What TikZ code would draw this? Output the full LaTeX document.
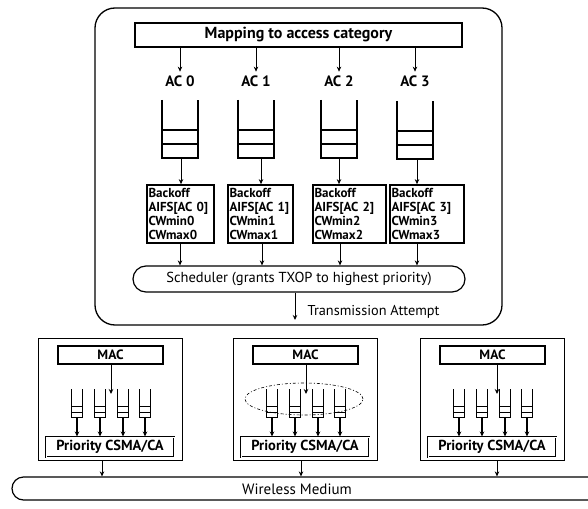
\documentclass[tikz,border=0pt]{standalone}
\usepackage{fontspec}
\setmainfont{PT Sans}
\usetikzlibrary{arrows.meta,shapes.misc,shapes.geometric}
\begin{document}
\begin{tikzpicture}[x=1pt,y=-1pt,line width=1.1pt,
  arr/.style={-{Stealth[length=5pt,width=4.5pt]},line width=0.9pt},
  qnode/.style={rectangle,inner sep=0pt,minimum width=35pt,minimum height=57pt},
  mq/.style={rectangle,inner sep=0pt,minimum width=10pt,minimum height=27pt},
  bobox/.style={draw,line width=1.7pt,rectangle,inner sep=1.5pt,minimum height=58pt,align=left,
    font=\bfseries\fontsize{13}{13.8}\selectfont},
  aclab/.style={font=\bfseries\fontsize{15}{17}\selectfont},
  station/.style={draw,line width=1.3pt,rectangle,minimum width=144pt,minimum height=122pt},
  macbox/.style={draw,line width=1.4pt,rectangle,minimum width=105pt,minimum height=18pt,inner sep=0pt,
    font=\bfseries\fontsize{13.5}{14}\selectfont},
  prio/.style={draw,double,double distance=0.9pt,line width=1pt,rectangle,minimum width=128pt,minimum height=20pt,inner sep=0pt,
    font=\bfseries\fontsize{14.5}{16}\selectfont},
]
\useasboundingbox (0,0) rectangle (588,508);
\fill[white] (0,0) rectangle (588,508);

% outer rounded box
\node[draw,line width=1.3pt,rounded corners=20pt,rectangle,minimum width=407pt,minimum height=317pt] (outer) at (298.5,166.5) {};

% mapping box
\node[draw,line width=1.2pt,rectangle,minimum width=327pt,minimum height=24pt,inner sep=0pt,
  font=\bfseries\fontsize{16}{18}\selectfont] (map) at (298.5,35) {Mapping to access category};

% AC labels
\node[aclab] (ac0) at (180,81) {AC 0};
\node[aclab] (ac1) at (256,81) {AC 1};
\node[aclab] (ac2) at (339,81) {AC 2};
\node[aclab] (ac3) at (415,81) {AC 3};
\foreach \i in {0,1,2,3} {
  \draw[arr] (map.south -| ac\i) -- (ac\i.north);
}

% queues
\node[qnode] (q0) at (180,129) {};
\node[qnode] (q1) at (256,129) {};
\node[qnode] (q2) at (339,129) {};
\node[qnode] (q3) at (415,130) {};
\foreach \i in {0,1,2,3} {
  \draw[line width=1.3pt] (q\i.north west) -- (q\i.south west) -- (q\i.south east) -- (q\i.north east);
  \draw[line width=1.3pt] ([yshift=14pt]q\i.south west) -- ([yshift=14pt]q\i.south east);
  \draw[line width=1.3pt] ([yshift=28pt]q\i.south west) -- ([yshift=28pt]q\i.south east);
}

% backoff boxes
\node[bobox,minimum width=67pt,text width=64pt] (b0) at (180.5,214) {Backoff\\AIFS[AC 0]\\CWmin0\\CWmax0};
\node[bobox,minimum width=65pt,text width=62pt] (b1) at (260.5,214) {Backoff\\AIFS[AC 1]\\CWmin1\\CWmax1};
\node[bobox,minimum width=73pt,text width=70pt] (b2) at (349.5,214) {Backoff\\AIFS[AC 2]\\CWmin2\\CWmax2};
\node[bobox,minimum width=74pt,text width=71pt] (b3) at (427,214) {Backoff\\AIFS[AC 3]\\CWmin3\\CWmax3};

\coordinate (x0) at (181,0);
\coordinate (x1) at (261,0);
\coordinate (x2) at (339,0);
\coordinate (x3) at (417,0);
\foreach \i in {0,1,2,3} {
  \draw[arr] (q\i.south -| x\i) -- (b\i.north -| x\i);
}

% scheduler
\node[draw,line width=1.2pt,rounded rectangle,minimum width=332pt,minimum height=26pt,inner sep=0pt,
  font=\fontsize{14.5}{16}\selectfont] (sch) at (299,279) {Scheduler (grants TXOP to highest priority)};
\coordinate (y0) at (180,0);
\coordinate (y1) at (262,0);
\coordinate (y2) at (340,0);
\coordinate (y3) at (417,0);
\foreach \i in {0,1,2,3} {
  \draw[arr] (b\i.south -| y\i) -- (sch.north -| y\i);
}

% transmission attempt
\coordinate (ta) at (295,320);
\draw[arr] (sch.south -| ta) -- (ta);
\node[font=\fontsize{14.3}{16}\selectfont,anchor=west,inner sep=0pt] (talab) at (307,312) {Transmission Attempt};

% wireless medium
\node[draw,line width=1.2pt,rounded rectangle,rounded rectangle right arc=none,minimum width=640pt,minimum height=23pt,inner sep=0pt] (wm) at (332,488.5) {};
\node[font=\fontsize{15}{17}\selectfont] (wmlab) at (297,489) {Wireless Medium};

% stations
\foreach \s/\L/\mx/\ox in {1/38/73/64,2/233/73/68,3/420/77/77} {
  \node[station,anchor=north west] (st\s) at (\L,338) {};
  \node[macbox] (mac\s) at (\L+72.5,355) {MAC};
  \node[prio] (pr\s) at (\L+72,447) {Priority CSMA/CA};
  \coordinate (mx\s) at (\L+\mx,0);
  \coordinate (ox\s) at (\L+\ox,0);
  \draw[arr] (mac\s.south -| mx\s) -- ([yshift=-4pt]mx\s |- 0,390);
  \draw[arr] (st\s.south -| ox\s) -- (wm.north -| ox\s);
  \foreach \k/\dx in {a/39,b/62,c/85,d/107} {
    \node[mq] (mq\s\k) at (\L+\dx,403.5) {};
    \draw[line width=1.2pt] (mq\s\k.north west) -- (mq\s\k.south west) -- (mq\s\k.south east) -- (mq\s\k.north east);
    \draw[line width=1.2pt] ([yshift=5pt]mq\s\k.south west) -- ([yshift=5pt]mq\s\k.south east);
    \draw[line width=1.2pt] ([yshift=11pt]mq\s\k.south west) -- ([yshift=11pt]mq\s\k.south east);
    \draw[arr,line width=1.1pt] (mq\s\k.south) -- (pr\s.north -| mq\s\k);
  }
}

% dashed group ellipse
\node[draw,ellipse,line width=0.6pt,dash pattern=on 3pt off 2pt on 1pt off 2pt,minimum width=118pt,minimum height=32pt] (grp) at (304,399) {};
\end{tikzpicture}
\end{document}
